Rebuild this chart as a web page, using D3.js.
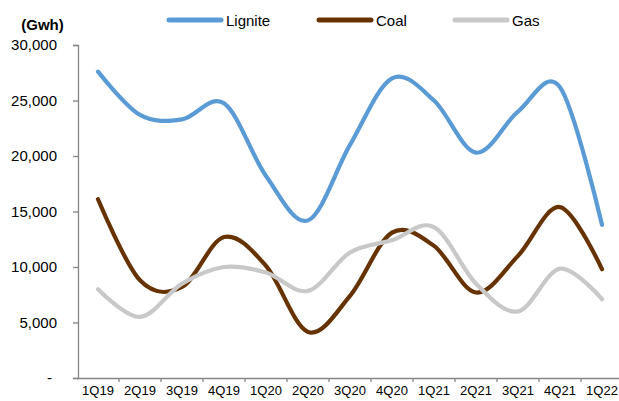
<!DOCTYPE html>
<html>
<head>
<meta charset="utf-8">
<script src="https://cdn.jsdelivr.net/npm/d3@7/dist/d3.min.js"></script>
<style>
  html, body { margin: 0; padding: 0; background: #fff; }
  svg { display: block; font-family: "Liberation Sans", Arial, sans-serif; }
</style>
</head>
<body>
<svg id="chart" width="619" height="401"></svg>
<script>
// Quarterly generation by fuel (GWh)
const quarters = ["1Q19","2Q19","3Q19","4Q19","1Q20","2Q20","3Q20","4Q20","1Q21","2Q21","3Q21","4Q21","1Q22"];
const lignite = [27600, 23700, 23300, 24750, 18200, 14200, 21000, 27000, 25000, 20300, 24000, 26200, 13800];
const coal    = [16100,  8800,  8200, 12700, 10100,  4150,  7400, 13100, 11900,  7700, 11000, 15400,  9800];
const gas     = [ 8000,  5500,  8500, 10000,  9500,  7850, 11300, 12400, 13600,  8500,  6000,  9850,  7100];
const yTicks  = [0, 5000, 10000, 15000, 20000, 25000, 30000];

const seriesList = [
  { name: "Lignite", values: lignite, color: "#5B9BD5" },
  { name: "Coal",    values: coal,    color: "#663300" },
  { name: "Gas",     values: gas,     color: "#C8C8C8" }
];

const svg = d3.select("#chart");
const plotLeft = 78, bandW = 42, plotTop = 45, plotBottom = 378;

const x = d3.scaleBand().domain(quarters).range([plotLeft - 1, plotLeft - 1 + bandW * quarters.length]);
const y = d3.scaleLinear().domain([0, 30000]).range([plotBottom, plotTop]);

const axisColor = "#868686";
const font = "Liberation Sans, Arial, sans-serif";

// Y axis
const yAxis = svg.append("g")
  .attr("transform", `translate(${plotLeft},0)`)
  .call(d3.axisLeft(y).tickValues(yTicks).tickSize(5).tickPadding(16)
    .tickFormat(d => d === 0 ? "-" : d3.format(",")(d)));
yAxis.select(".domain").attr("stroke", axisColor).attr("stroke-width", 1.3);
yAxis.selectAll(".tick line").attr("stroke", axisColor).attr("stroke-width", 1.3);
yAxis.selectAll("text").attr("font-size", 15).attr("fill", "#000").attr("font-family", font)
  .attr("dx", d => d === 0 ? -5 : 0);

// X axis: labels centred in bands, ticks on band boundaries
const xAxis = svg.append("g")
  .attr("transform", `translate(0,${plotBottom})`)
  .call(d3.axisBottom(x).tickSize(0).tickPadding(8));
xAxis.select(".domain").attr("stroke", axisColor).attr("stroke-width", 1.3);
xAxis.selectAll("text").attr("font-size", 13).attr("fill", "#000").attr("font-family", font);
svg.append("g").selectAll("line")
  .data(quarters.slice(1))
  .join("line")
  .attr("x1", d => x(d)).attr("x2", d => x(d))
  .attr("y1", plotBottom).attr("y2", plotBottom + 4)
  .attr("stroke", axisColor).attr("stroke-width", 1.3);

// Smoothed lines
const line = d3.line()
  .x((d, i) => x(quarters[i]) + x.bandwidth() / 2)
  .y(d => y(d))
  .curve(d3.curveCatmullRom.alpha(0));

svg.append("g").selectAll("path")
  .data(seriesList)
  .join("path")
  .attr("d", s => line(s.values))
  .attr("fill", "none")
  .attr("stroke", s => s.color)
  .attr("stroke-width", 4.2)
  .attr("stroke-linecap", "round")
  .attr("stroke-linejoin", "round");

// Unit label
svg.append("text")
  .attr("x", 42.5).attr("y", 30)
  .attr("text-anchor", "middle")
  .attr("font-size", 15).attr("font-weight", "bold")
  .text("(Gwh)");

// Legend
const legendX = [167, 317, 453];
const legend = svg.append("g").selectAll("g")
  .data(seriesList)
  .join("g")
  .attr("transform", (d, i) => `translate(${legendX[i]},20)`);
legend.append("line")
  .attr("x1", 2).attr("x2", 54)
  .attr("stroke", d => d.color)
  .attr("stroke-width", 5)
  .attr("stroke-linecap", "round");
legend.append("text")
  .attr("x", 59).attr("y", 5.5)
  .attr("font-size", 15)
  .text(d => d.name);
</script>
</body>
</html>
